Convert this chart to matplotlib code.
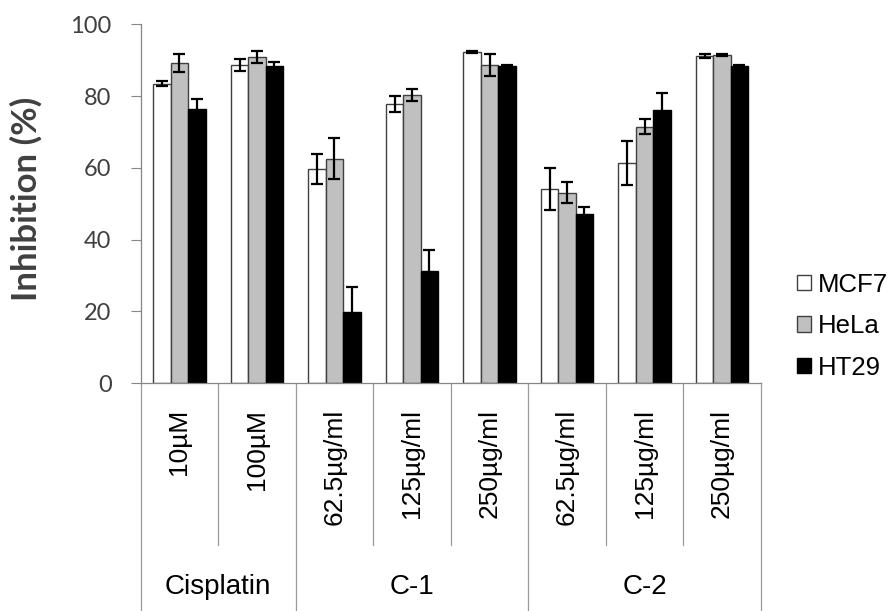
import matplotlib
matplotlib.use("Agg")
import matplotlib.pyplot as plt
import matplotlib.transforms as mtransforms
import numpy as np

# ---- data ----
sub_labels = ["10µM", "100µM", "62.5µg/ml", "125µg/ml", "250µg/ml",
              "62.5µg/ml", "125µg/ml", "250µg/ml"]
group_labels = ["Cisplatin", "C-1", "C-2"]
group_sizes = [2, 3, 3]
series_names = ["MCF7", "HeLa", "HT29"]
MCF7 = [83.5, 88.6, 59.7, 77.8, 92.3, 54.2, 61.3, 91.2]
MCF7_err = [0.8, 1.7, 4.1, 2.1, 0.4, 5.9, 6.2, 0.5]
HeLa = [89.1, 90.9, 62.6, 80.3, 88.6, 53.1, 71.5, 91.5]
HeLa_err = [2.5, 1.7, 5.6, 1.8, 3.0, 3.0, 2.0, 0.3]
HT29 = [76.5, 88.4, 19.9, 31.3, 88.4, 47.2, 76.1, 88.3]
HT29_err = [2.8, 1.0, 6.9, 5.9, 0.3, 1.9, 4.7, 0.3]
yticks = [0, 20, 40, 60, 80, 100]

# ---- figure ----
fig = plt.figure(figsize=(8.94, 6.11), dpi=100)
ax = fig.add_axes([0.1574, 0.3727, 0.6936, 0.5875])

x = np.arange(len(sub_labels))
w = 0.225
colors = ["white", "#c0c0c0", "black"]
edges = ["#404040", "#404040", "black"]
values = [MCF7, HeLa, HT29]
errs = [MCF7_err, HeLa_err, HT29_err]
handles = []
for i, (vals, er) in enumerate(zip(values, errs)):
    b = ax.bar(x + (i - 1) * w, vals, width=w, color=colors[i],
               edgecolor=edges[i], linewidth=1.0, yerr=er,
               error_kw=dict(ecolor="black", elinewidth=1.6, capsize=4,
                             capthick=1.6), label=series_names[i], zorder=2)
    handles.append(b)

ax.set_xlim(-0.5, len(sub_labels) - 0.5)
ax.set_ylim(0, 100)
ax.set_yticks(yticks)
ax.set_yticklabels([str(t) for t in yticks], fontfamily="Lato", fontsize=17,
                   color="#404040")
ax.tick_params(axis="y", length=7, width=0.8, color="#868686", pad=14)

ax.set_xticks(x)
ax.set_xticklabels(sub_labels, rotation=90, fontfamily="Liberation Sans",
                   fontsize=19, color="black")
ax.tick_params(axis="x", length=0, pad=18.5)

for s in ["top", "right"]:
    ax.spines[s].set_visible(False)
for s in ["left", "bottom"]:
    ax.spines[s].set_color("#868686")
    ax.spines[s].set_linewidth(0.9)

ax.set_ylabel("Inhibition (%)", fontfamily="Lato", fontweight="bold",
              fontsize=25, color="#404040")
ax.yaxis.set_label_coords(-0.158, 0.515)

# multi-level category dividers
trans = mtransforms.blended_transform_factory(ax.transData, ax.transAxes)
bounds = np.cumsum([0] + group_sizes) - 0.5
for xi in np.arange(-0.5, len(sub_labels) + 0.5, 1.0):
    is_group = np.any(np.isclose(bounds, xi))
    y_end = -0.634 if is_group else -0.450
    ax.plot([xi, xi], [0, y_end], color="#9a9a9a", lw=0.9,
            transform=trans, clip_on=False)
for g, lab in enumerate(group_labels):
    cx = (bounds[g] + bounds[g + 1]) / 2
    ax.text(cx, -0.567, lab, transform=trans, ha="center", va="center",
            fontfamily="Liberation Sans", fontsize=20, color="black")

leg = ax.legend(handles=handles, labels=series_names, loc="center left",
                bbox_to_anchor=(0.8915, 0.4664), bbox_transform=fig.transFigure,
                frameon=False, prop={"family": "Liberation Sans", "size": 18.5},
                handlelength=0.55, handleheight=0.55, handletextpad=0.25,
                labelspacing=0.68, borderpad=0, borderaxespad=0)

fig.savefig("out.png", dpi=100)
